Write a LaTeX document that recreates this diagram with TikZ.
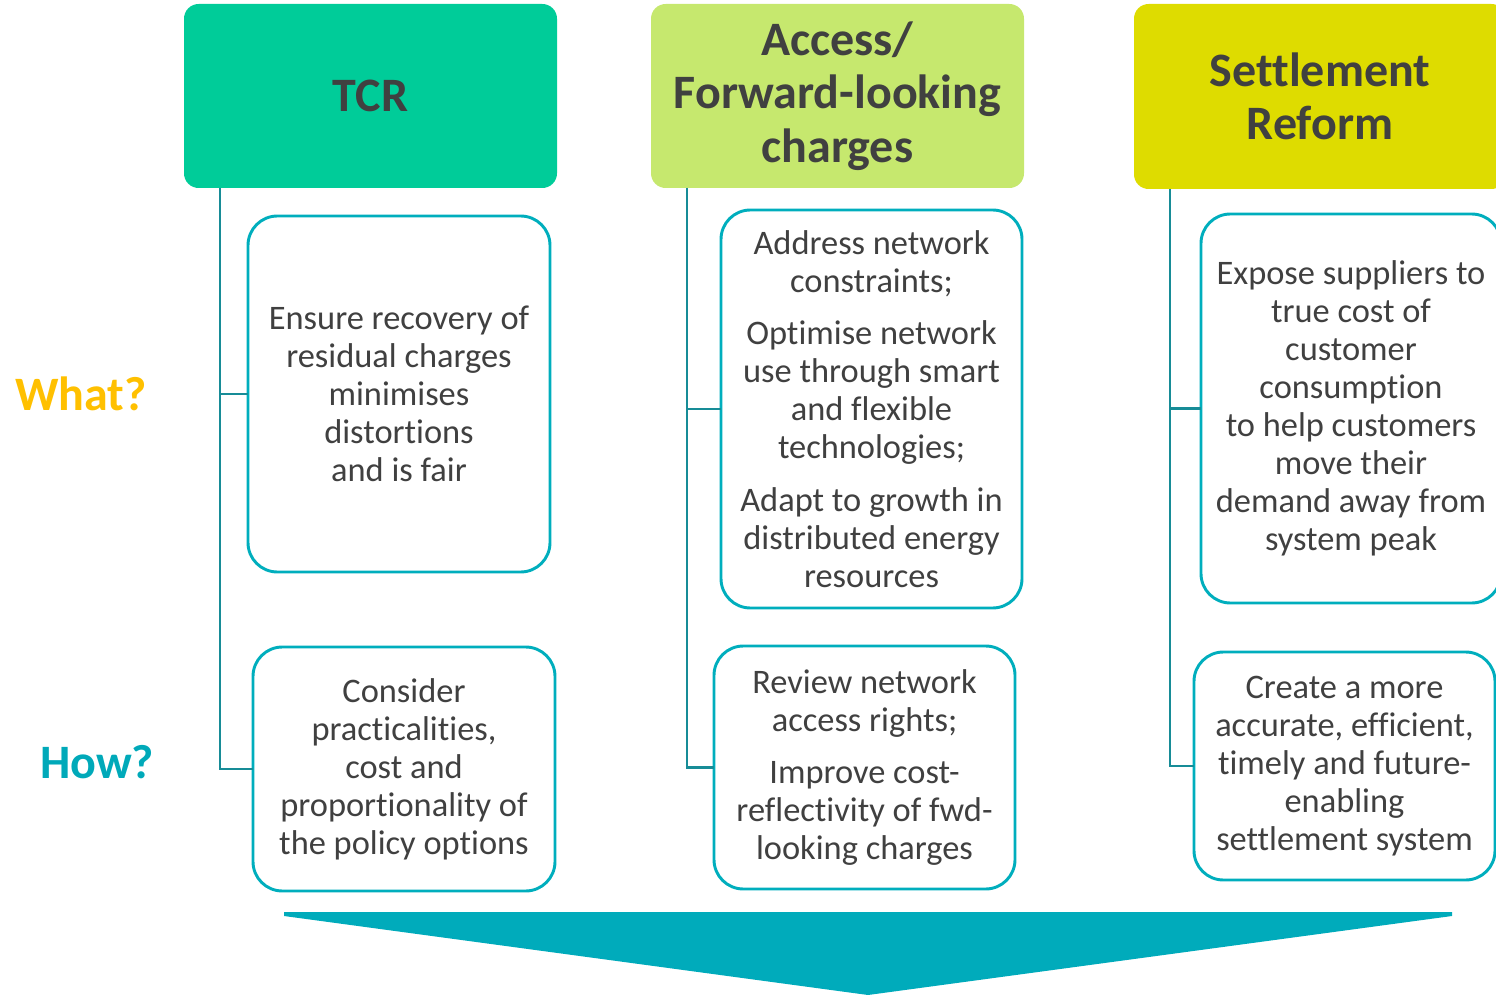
\documentclass[tikz,border=0pt]{standalone}
\usepackage{fontspec}
\setmainfont{Carlito}[Ligatures=NoCommon]
\definecolor{tcrcol}{HTML}{00CC99}
\definecolor{acccol}{HTML}{C6E86E}
\definecolor{setcol}{HTML}{DEDC00}
\definecolor{txtcol}{HTML}{404040}
\definecolor{bordcol}{HTML}{00AEBD}
\definecolor{linecol}{HTML}{178C97}
\definecolor{arrcol}{HTML}{00ABBB}
\definecolor{whatcol}{HTML}{FFC000}
\definecolor{howcol}{HTML}{00A9B9}
\tikzset{
  hdr/.style={draw=none, rounded corners=11pt, inner sep=0pt, outer sep=0pt,
    text=txtcol, align=center, font=\fontsize{36}{40}\selectfont\bfseries},
  card/.style={draw=bordcol, line width=2.2pt, fill=white, rounded corners=22pt,
    inner sep=0pt, outer sep=0pt, text=txtcol, align=center,
    font=\fontsize{25.8}{28.5}\selectfont},
  conn/.style={draw=linecol, line width=1.9pt},
  side/.style={font=\fontsize{36}{40}\selectfont\bfseries, inner sep=0pt}
}
\begin{document}
\begin{tikzpicture}[x=0.75pt,y=-0.75pt]
\useasboundingbox (0,0) rectangle (1496,995);
\clip (0,0) rectangle (1496,995);

% headers
\node[hdr, fill=tcrcol, minimum width=373*0.75pt, minimum height=184*0.75pt] (tcr) at (370.5,96) {TCR};
\node[hdr, fill=acccol, minimum width=373*0.75pt, minimum height=184*0.75pt] (acc) at (837.5,96) {Access/\\Forward-looking\\charges};
\node[hdr, fill=setcol, minimum width=372*0.75pt, minimum height=185*0.75pt] (set) at (1320,96.5) {Settlement\\Reform};

% side labels
\node[side, text=whatcol] (what) at (81,394) {What?};
\node[side, text=howcol] (how) at (97,762) {How?};

% cards
\node[card, minimum width=302*0.75pt, minimum height=356*0.75pt] (tw) at (399,394)
  {Ensure recovery of\\residual charges\\minimises\\distortions\\and is fair};
\node[card, minimum width=302*0.75pt, minimum height=244*0.75pt] (th) at (404,769)
  {Consider\\practicalities,\\cost and\\proportionality of\\the policy options};
\node[card, minimum width=301*0.75pt, minimum height=398*0.75pt] (aw) at (871.5,409)
  {Address network\\constraints;\\[11pt]Optimise network\\use through smart\\and flexible\\technologies;\\[11pt]Adapt to growth in\\distributed energy\\resources};
\node[card, minimum width=301*0.75pt, minimum height=243*0.75pt] (ah) at (864.5,767.5)
  {Review network\\access rights;\\[11pt]Improve cost-\\reflectivity of fwd-\\looking charges};
\node[card, minimum width=300*0.75pt, minimum height=389*0.75pt] (sw) at (1351,408.5)
  {Expose suppliers to\\true cost of\\customer\\consumption\\to help customers\\move their\\demand away from\\system peak};
\node[card, minimum width=301*0.75pt, minimum height=228*0.75pt] (sh) at (1344.5,766)
  {Create a more\\accurate, efficient,\\timely and future-\\enabling\\settlement system};

% connectors
\coordinate (tt) at ([xshift=36*0.75pt]tcr.south west);
\coordinate (at) at ([xshift=36*0.75pt]acc.south west);
\coordinate (st) at ([xshift=36*0.75pt]set.south west);
\draw[conn] (tt) |- (tw.west);
\draw[conn] (tt) |- (th.west);
\draw[conn] (at) |- (aw.west);
\draw[conn] (at) |- (ah.west);
\draw[conn] (st) |- (sw.west);
\draw[conn] (st) |- (sh.west);

% big arrow
\fill[arrcol] (284,912) -- (1452,912) -- (1452,916) -- (868,995) -- (284,916) -- cycle;
\end{tikzpicture}
\end{document}
